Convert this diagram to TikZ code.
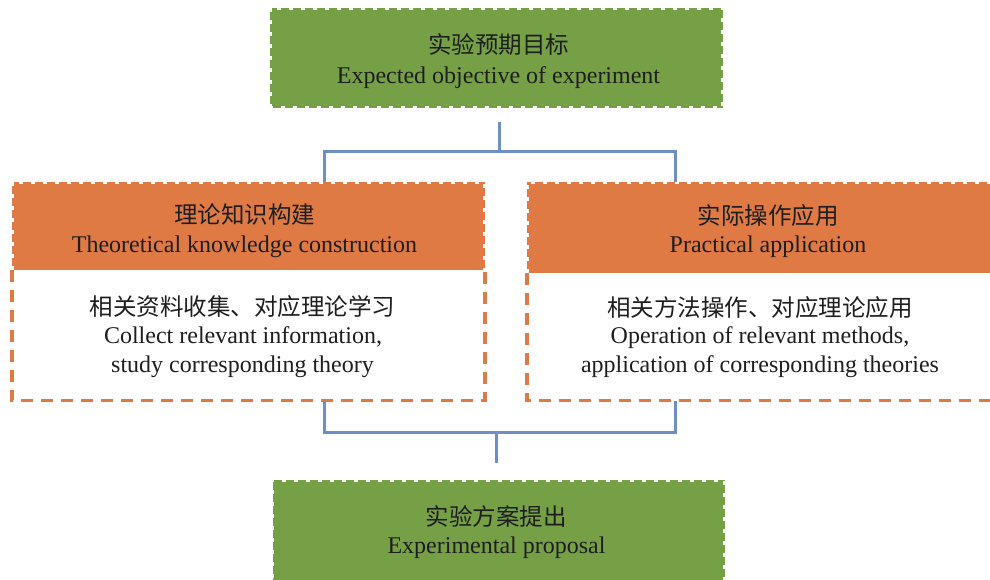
\documentclass[tikz,border=0pt]{standalone}
\usepackage{fontspec}
\setmainfont{Liberation Serif}
\newfontfamily\cjk{Noto Sans CJK SC}
\definecolor{gr}{HTML}{76A046}
\definecolor{og}{HTML}{E07A45}
\definecolor{bl}{HTML}{6E8FC6}
\definecolor{tx}{HTML}{1E1E1E}
\begin{document}
\begin{tikzpicture}[x=1pt,y=-1pt,
  ln/.style={text=tx, anchor=base, inner sep=0pt, font=\fontsize{24}{28}\selectfont},
  cn/.style={ln, font=\fontsize{23.5}{28}\selectfont\cjk},
  greenbox/.style={fill=gr, inner sep=0pt},
  hdrbox/.style={fill=og, inner sep=0pt},
  bodybox/.style={fill=white, inner sep=0pt},
  whitedash/.style={draw=white, line width=4pt, dash pattern=on 4pt off 8pt},
  ordash/.style={draw=og, line width=3.5pt, dash pattern=on 12pt off 8pt},
  conn/.style={draw=bl, line width=3pt}]
\clip (0,0) rectangle (990,579);
\fill[white] (0,0) rectangle (990,579);

% top green box
\node[greenbox, minimum width=453pt, minimum height=100pt] (goal) at (496.5,58) {};
\draw[whitedash] (goal.south west) rectangle (goal.north east);
\node[cn] (goalc) at (498.5,53) {实验预期目标};
\node[ln] (goale) at (498.5,83) {Expected objective of experiment};

% left orange box
\node[hdrbox, minimum width=473pt, minimum height=88pt] (lh) at (248.5,226) {};
\node[bodybox, minimum width=473pt, minimum height=130pt, anchor=north] (lb) at (lh.south) {};
\draw[ordash] (lh.south west) -- (lb.south west) -- (lb.south east) -- (lh.south east);
\draw[whitedash] (lh.south west) -- (lh.north west) -- (lh.north east) -- (lh.south east);
\node[cn] (lhc) at (244.5,223) {理论知识构建};
\node[ln] (lhe) at (244.5,252) {Theoretical knowledge construction};
\node[cn] (lbc) at (242.5,315) {相关资料收集、对应理论学习};
\node[ln] (lbe1) at (243,343) {Collect relevant information,};
\node[ln] (lbe2) at (242.5,372) {study corresponding theory};

% right orange box
\node[hdrbox, minimum width=473pt, minimum height=91pt] (rh) at (763.5,227.5) {};
\node[bodybox, minimum width=473pt, minimum height=127pt, anchor=north] (rb) at (rh.south) {};
\draw[ordash] (rh.south west) -- (rb.south west) -- (rb.south east) -- (rh.south east);
\draw[whitedash] (rh.south west) -- (rh.north west) -- (rh.north east) -- (rh.south east);
\node[cn] (rhc) at (768,224) {实际操作应用};
\node[ln] (rhe) at (768,252) {Practical application};
\node[cn] (rbc) at (760,316) {相关方法操作、对应理论应用};
\node[ln] (rbe1) at (760,343) {Operation of relevant methods,};
\node[ln] (rbe2) at (760,372) {application of corresponding theories};

% bottom green box
\node[greenbox, minimum width=452pt, minimum height=110pt] (prop) at (498.5,535) {};
\draw[whitedash] (prop.south west) rectangle (prop.north east);
\node[cn] (propc) at (496,525) {实验方案提出};
\node[ln] (prope) at (496.5,553) {Experimental proposal};

% connectors
\coordinate (t0) at (499,122);
\coordinate (t1) at (499,151);
\coordinate (tl) at (324,182);
\coordinate (tr) at (675,182);
\draw[conn] (t0) -- (t1);
\draw[conn] (tl) |- (t1) -| (tr);
\coordinate (bl0) at (324,401);
\coordinate (br0) at (675,401);
\coordinate (bm) at (496,432);
\coordinate (b1) at (496,463);
\draw[conn] (bl0) |- (bm) -| (br0);
\draw[conn] (bm) -- (b1);
\end{tikzpicture}
\end{document}
